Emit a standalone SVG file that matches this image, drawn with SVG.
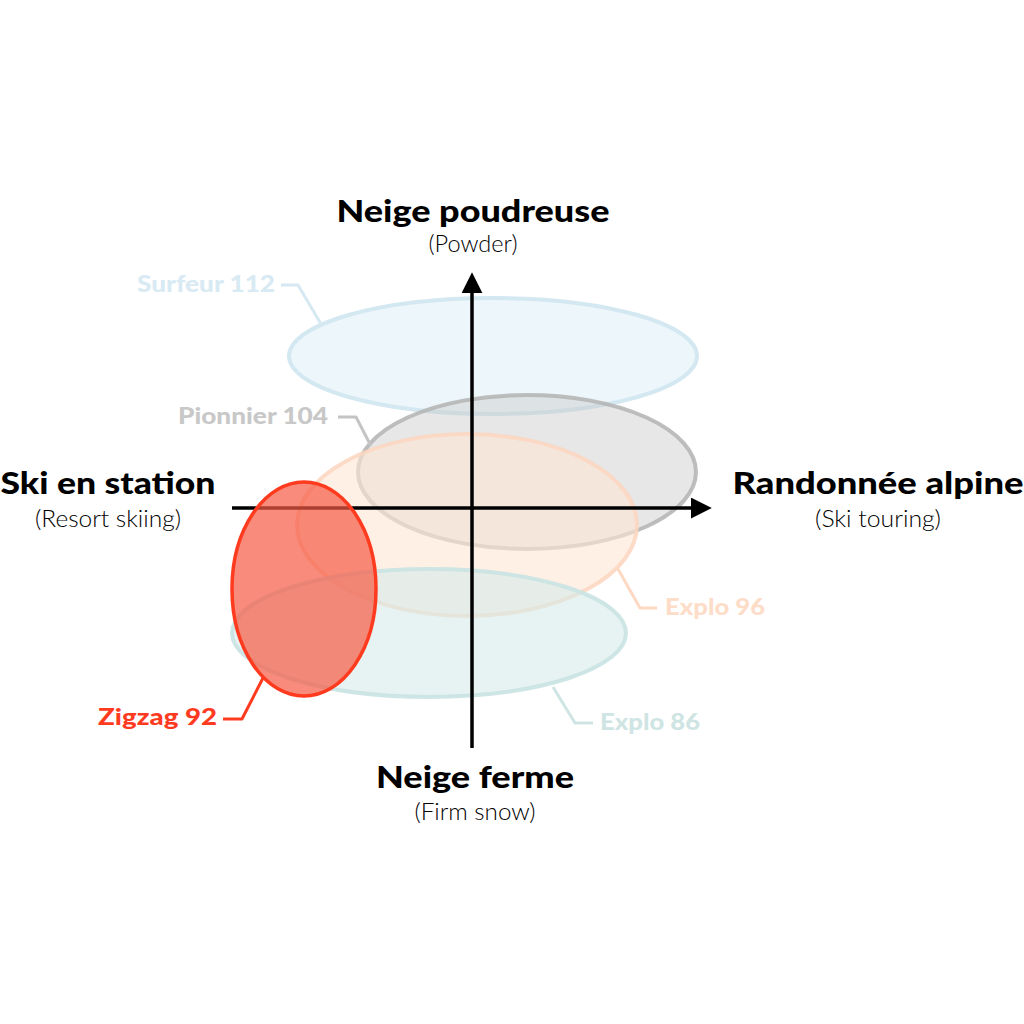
<svg xmlns="http://www.w3.org/2000/svg" width="1024" height="1024" viewBox="0 0 1024 1024">
<defs>
<style>
.t{font-family:Lato,"Noto Sans","DejaVu Sans",sans-serif;font-weight:900;font-size:31px;fill:#000;text-anchor:middle}
.s{font-family:Lato,"Noto Sans","DejaVu Sans",sans-serif;font-weight:300;font-size:23px;fill:#000;text-anchor:middle}
.l{font-family:Lato,"Noto Sans","DejaVu Sans",sans-serif;font-weight:900;font-size:22px}
.ax{stroke:#000;stroke-width:3.5;fill:none}
.lead{fill:none;stroke-width:3;stroke-linejoin:round}
</style>
<marker id="arr" viewBox="0 0 10 10" refX="2" refY="5" markerWidth="6" markerHeight="6" markerUnits="strokeWidth" orient="auto">
<path d="M0,0 L10,5 L0,10 z" fill="#000"/>
</marker>
</defs>
<rect width="1024" height="1024" fill="#fff"/>
<g id="axis-labels">
<text class="t" x="473" y="222" textLength="273" lengthAdjust="spacingAndGlyphs">Neige poudreuse</text>
<text class="s" x="473" y="252" textLength="89" lengthAdjust="spacingAndGlyphs">(Powder)</text>
<text class="t" x="108" y="494" textLength="215" lengthAdjust="spacingAndGlyphs">Ski en station</text>
<text class="s" x="108" y="527" textLength="146" lengthAdjust="spacingAndGlyphs">(Resort skiing)</text>
<text class="t" x="878" y="494" textLength="291" lengthAdjust="spacingAndGlyphs">Randonnée alpine</text>
<text class="s" x="878" y="527" textLength="126" lengthAdjust="spacingAndGlyphs">(Ski touring)</text>
<text class="t" x="475" y="788" textLength="198" lengthAdjust="spacingAndGlyphs">Neige ferme</text>
<text class="s" x="475" y="820" textLength="121" lengthAdjust="spacingAndGlyphs">(Firm snow)</text>
</g>
<g id="surfeur-112">
<ellipse cx="493" cy="356" rx="204" ry="58" fill="#e6f2f8" fill-opacity="0.7" stroke="#d4e8f1" stroke-width="4"/>
<polyline class="lead" stroke="#d6e9f2" points="281,285 298,285 321,324"/>
<text class="l" x="275" y="292" text-anchor="end" fill="#d8eaf3" textLength="138" lengthAdjust="spacingAndGlyphs">Surfeur 112</text>
</g>
<g id="pionnier-104">
<ellipse cx="527" cy="472" rx="169" ry="77" fill="#c9c9c9" fill-opacity="0.45" stroke="#b3b3b3" stroke-width="4" stroke-opacity="0.85"/>
<polyline class="lead" stroke="#c4c4c4" points="338,417 356,417 371,446"/>
<text class="l" x="328" y="424" text-anchor="end" fill="#c8c8c8" textLength="150" lengthAdjust="spacingAndGlyphs">Pionnier 104</text>
</g>
<g id="explo-96">
<ellipse cx="467" cy="525" rx="170" ry="91" fill="#ffe6d6" fill-opacity="0.6" stroke="#fcd6c0" stroke-width="4" stroke-opacity="0.85"/>
<polyline class="lead" stroke="#fdd9c4" points="618,569 640,608 657,608"/>
<text class="l" x="665" y="615" fill="#fddcc8" textLength="100" lengthAdjust="spacingAndGlyphs">Explo 96</text>
</g>
<g id="explo-86">
<ellipse cx="429" cy="633" rx="197" ry="64" fill="#d6ebea" fill-opacity="0.6" stroke="#c9e3e2" stroke-width="4" stroke-opacity="0.9"/>
<polyline class="lead" stroke="#cfe5e4" points="553,687 575,723 593,723"/>
<text class="l" x="600" y="730" fill="#cfe5e4" textLength="100" lengthAdjust="spacingAndGlyphs">Explo 86</text>
</g>
<g id="axes">
<line class="ax" x1="232" y1="508" x2="695" y2="508" marker-end="url(#arr)"/>
<line class="ax" x1="472" y1="748" x2="472" y2="289" marker-end="url(#arr)"/>
</g>
<g id="zigzag-92">
<ellipse cx="304" cy="589" rx="72" ry="107" fill="#f65a45" fill-opacity="0.7" stroke="#ff3b1f" stroke-width="3.5"/>
<polyline class="lead" stroke="#ff3b1f" points="223,719 242,719 263,678"/>
<text class="l" x="217" y="725" text-anchor="end" fill="#ff3b1f" textLength="119" lengthAdjust="spacingAndGlyphs">Zigzag 92</text>
</g>
</svg>
